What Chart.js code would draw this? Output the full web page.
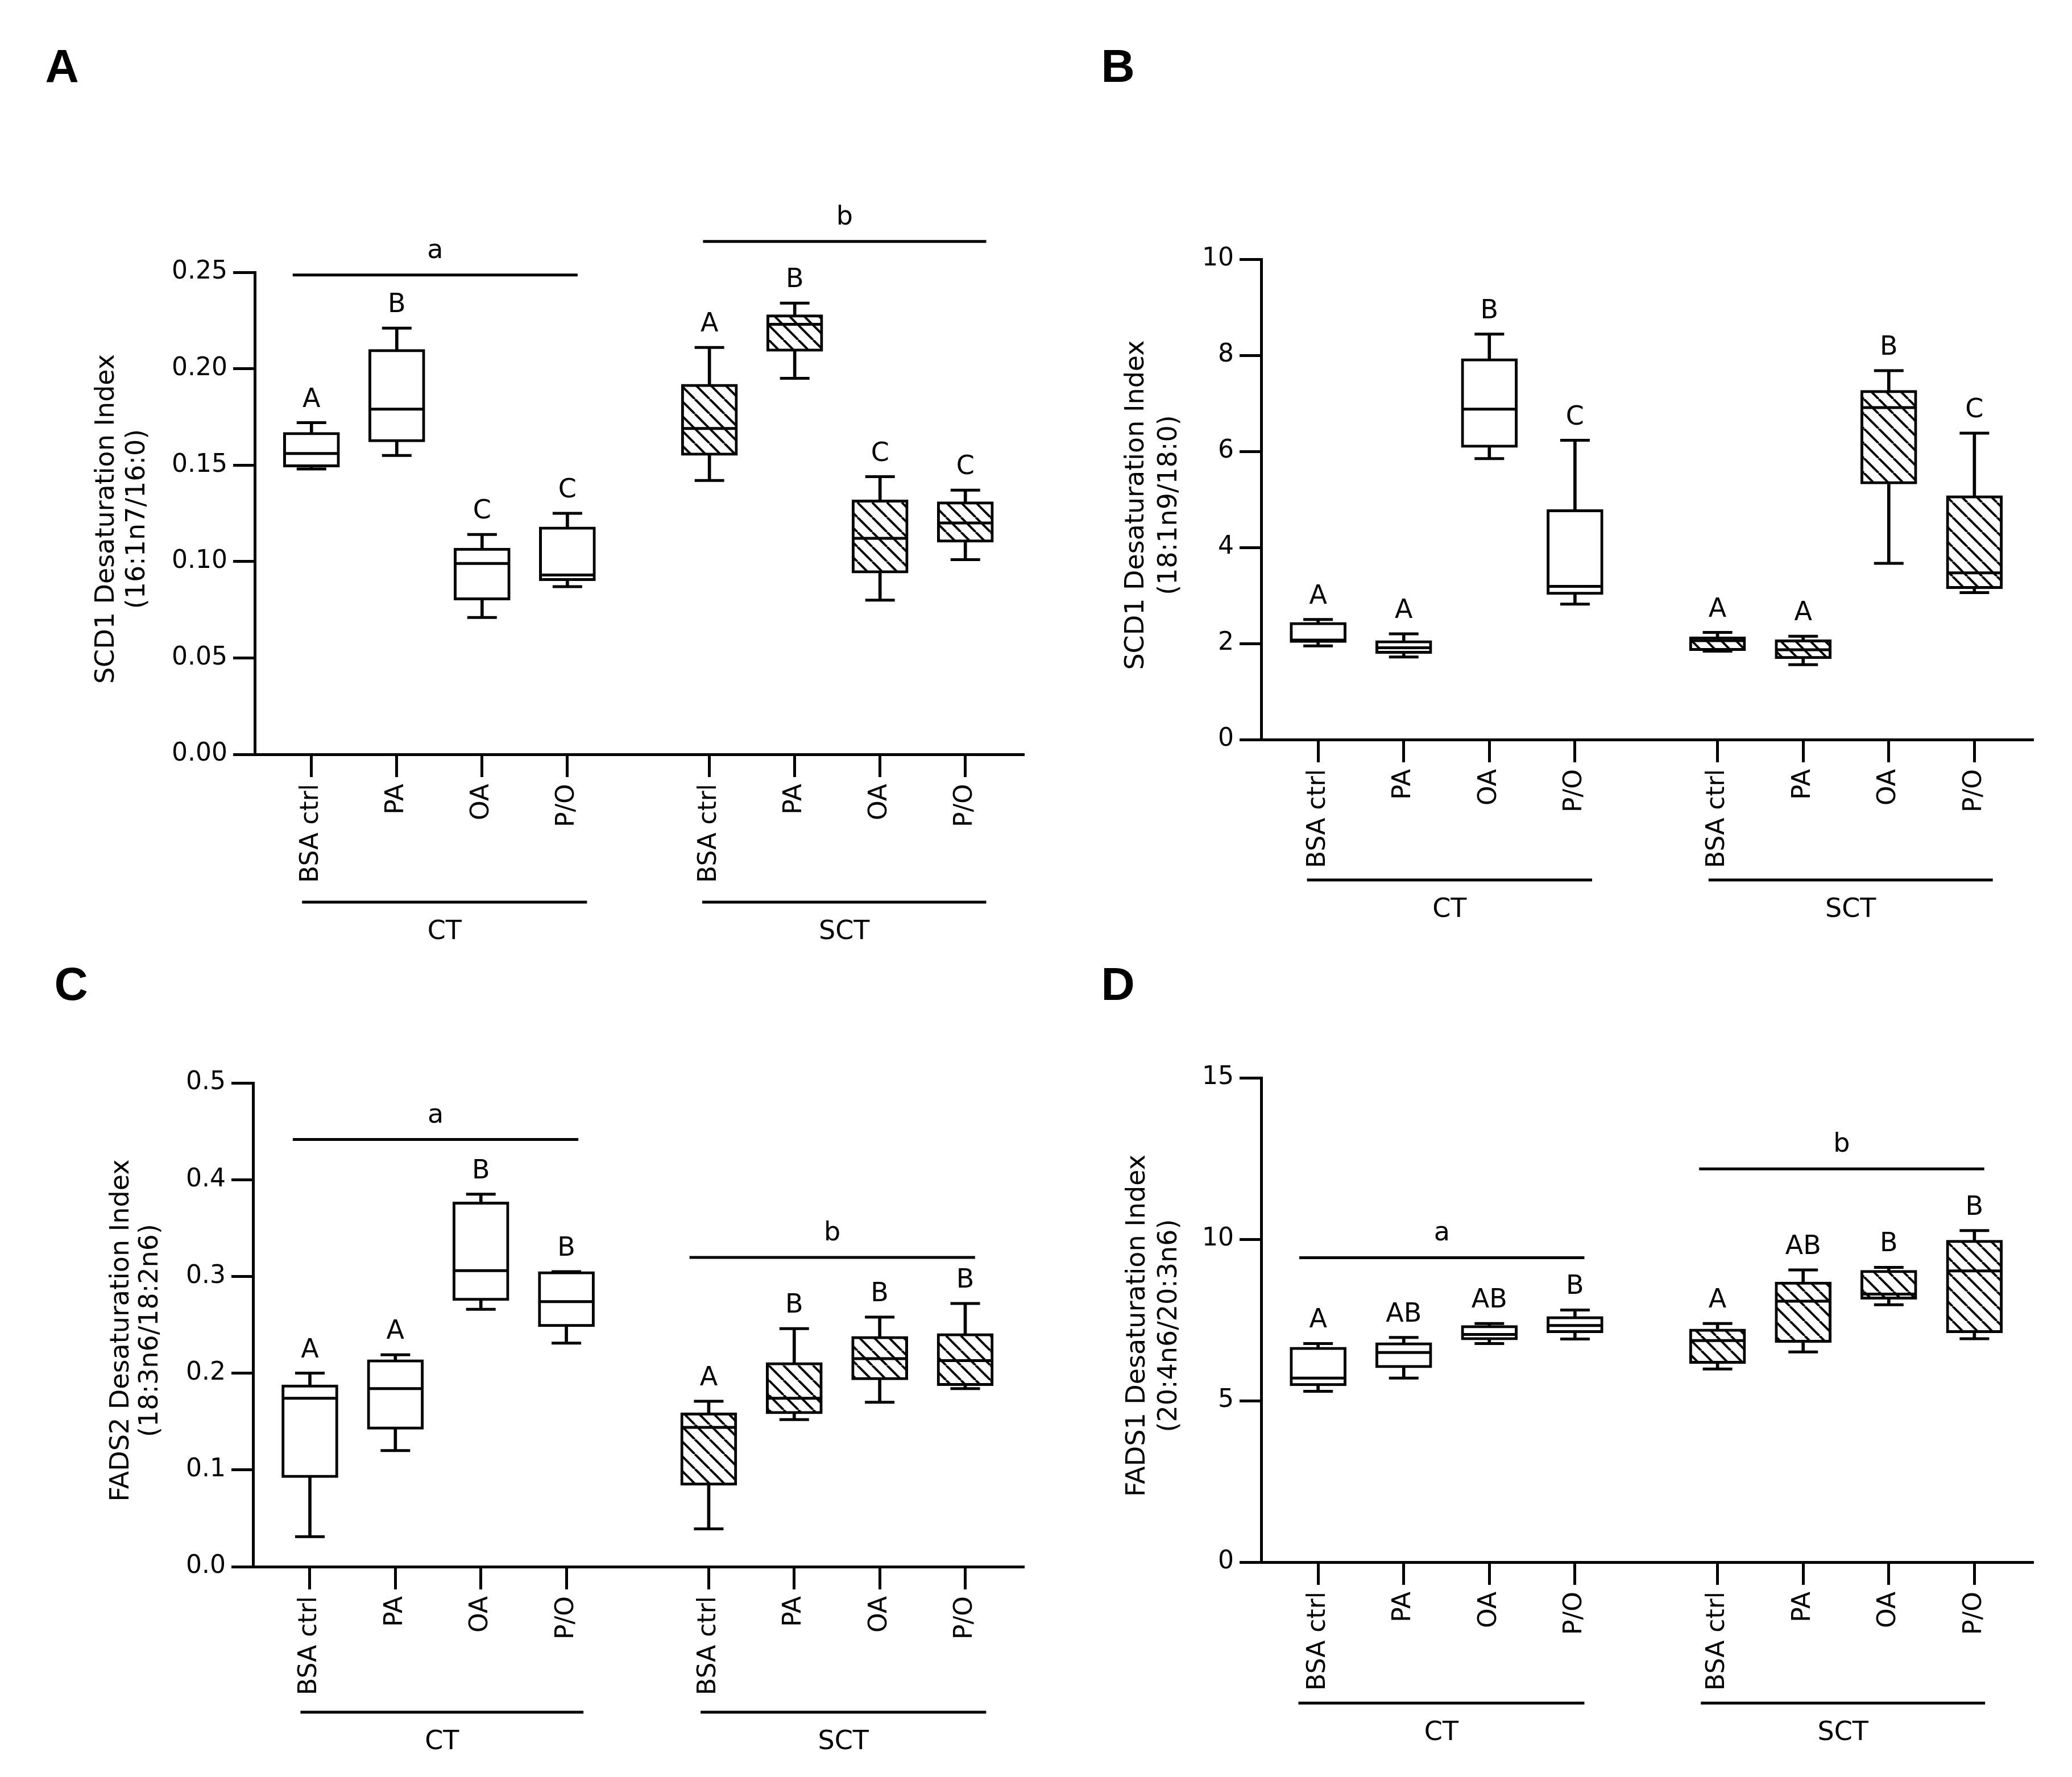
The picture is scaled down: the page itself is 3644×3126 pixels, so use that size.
<!DOCTYPE html>
<html>
<head>
<meta charset="utf-8">
<script src="https://cdn.jsdelivr.net/npm/chart.js@4.4.1/dist/chart.umd.min.js"></script>
<style>
  body { margin: 0; background: #fff; width: 3644px; height: 3126px; position: relative; overflow: hidden; }
  canvas { position: absolute; }
  .panel { position: absolute; font: bold 82px "Liberation Sans", Arial, sans-serif; line-height: 1; transform: translate(-50%, -50%); }
</style>
</head>
<body>
<div class="panel" style="left:109px;top:116px">A</div>
<div class="panel" style="left:1966px;top:116px">B</div>
<div class="panel" style="left:125px;top:1731px">C</div>
<div class="panel" style="left:1966px;top:1731px">D</div>
<canvas id="cA" width="1850" height="1700" style="left:0;top:0"></canvas>
<canvas id="cB" width="1822" height="1700" style="left:1822px;top:0"></canvas>
<canvas id="cC" width="1850" height="1426" style="left:0;top:1700px"></canvas>
<canvas id="cD" width="1822" height="1426" style="left:1822px;top:1700px"></canvas>
<script>
// categories (CT group then SCT group), x positions leave a gap between groups
const treatments = ['BSA ctrl', 'PA', 'OA', 'P/O', 'BSA ctrl', 'PA', 'OA', 'P/O'];
const positions = [1, 2, 3, 4, 5.665, 6.665, 7.665, 8.665];

// A: SCD1 (16:1n7/16:0)
const scd16Min = [0.148, 0.155, 0.071, 0.087, 0.142, 0.195, 0.080, 0.101];
const scd16Q1  = [0.149, 0.162, 0.080, 0.090, 0.155, 0.209, 0.094, 0.110];
const scd16Med = [0.156, 0.179, 0.099, 0.093, 0.169, 0.223, 0.112, 0.120];
const scd16Q3  = [0.167, 0.210, 0.107, 0.118, 0.192, 0.228, 0.132, 0.131];
const scd16Max = [0.172, 0.221, 0.114, 0.125, 0.211, 0.234, 0.144, 0.137];
const scd16Letters = ['A', 'B', 'C', 'C', 'A', 'B', 'C', 'C'];
const scd16Ticks = [0, 0.05, 0.10, 0.15, 0.20, 0.25];

// B: SCD1 (18:1n9/18:0)
const scd18Min = [1.95, 1.72, 5.85, 2.82, 1.84, 1.56, 3.67, 3.06];
const scd18Q1  = [2.02, 1.79, 6.08, 3.02, 1.85, 1.68, 5.32, 3.14];
const scd18Med = [2.07, 1.91, 6.88, 3.19, 2.06, 1.87, 6.91, 3.47];
const scd18Q3  = [2.44, 2.06, 7.93, 4.79, 2.14, 2.08, 7.27, 5.08];
const scd18Max = [2.50, 2.20, 8.44, 6.23, 2.23, 2.15, 7.68, 6.38];
const scd18Letters = ['A', 'A', 'B', 'C', 'A', 'A', 'B', 'C'];
const scd18Ticks = [0, 2, 4, 6, 8, 10];

// C: FADS2 (18:3n6/18:2n6)
const fads2Min = [0.031, 0.120, 0.266, 0.231, 0.039, 0.152, 0.170, 0.184];
const fads2Q1  = [0.092, 0.142, 0.275, 0.248, 0.084, 0.158, 0.193, 0.187];
const fads2Med = [0.174, 0.184, 0.306, 0.274, 0.144, 0.174, 0.215, 0.213];
const fads2Q3  = [0.188, 0.214, 0.377, 0.305, 0.159, 0.211, 0.238, 0.241];
const fads2Max = [0.200, 0.219, 0.385, 0.305, 0.171, 0.246, 0.258, 0.272];
const fads2Letters = ['A', 'A', 'B', 'B', 'A', 'B', 'B', 'B'];
const fads2Ticks = [0, 0.1, 0.2, 0.3, 0.4, 0.5];

// D: FADS1 (20:4n6/20:3n6)
const fads1Min = [5.29, 5.70, 6.77, 6.91, 5.98, 6.51, 7.97, 6.92];
const fads1Q1  = [5.46, 6.02, 6.88, 7.10, 6.15, 6.80, 8.14, 7.10];
const fads1Med = [5.70, 6.49, 7.05, 7.33, 6.86, 8.08, 8.30, 9.02];
const fads1Q3  = [6.66, 6.80, 7.33, 7.61, 7.22, 8.68, 9.04, 9.97];
const fads1Max = [6.77, 6.96, 7.39, 7.81, 7.39, 9.05, 9.13, 10.27];
const fads1Letters = ['A', 'AB', 'AB', 'B', 'A', 'AB', 'B', 'B'];
const fads1Ticks = [0, 5, 10, 15];

// significance bars: [from, to, y, label]
const sigA = [[0.78, 4.12, 0.2486, 'a'], [5.59, 8.91, 0.266, 'b']];
const sigB = [];
const sigC = [[0.80, 4.14, 0.4415, 'a'], [5.44, 8.78, 0.3196, 'b']];
const sigD = [[0.78, 4.11, 9.43, 'a'], [5.45, 8.78, 12.18, 'b']];

// group underline bars: [from, to, label]
const grpA = [[0.89, 4.23, 'CT'], [5.58, 8.91, 'SCT']];
const grpB = [[0.87, 4.20, 'CT'], [5.56, 8.88, 'SCT']];
const grpC = [[0.89, 4.20, 'CT'], [5.57, 8.91, 'SCT']];
const grpD = [[0.77, 4.11, 'CT'], [5.47, 8.79, 'SCT']];

const family = '"DejaVu Sans", sans-serif';

function hatch() {
  const s = 26, c = document.createElement('canvas');
  c.width = s; c.height = s;
  const g = c.getContext('2d');
  g.fillStyle = '#fff'; g.fillRect(0, 0, s, s);
  g.strokeStyle = '#000'; g.lineWidth = 4;
  for (const k of [-1, 0, 1]) {
    g.beginPath(); g.moveTo(k * s, 0); g.lineTo(k * s + s, s); g.stroke();
  }
  return g.createPattern(c, 'repeat');
}
const hatchFill = hatch();

function extras(p) {
  return {
    id: 'extras',
    afterDraw(chart) {
      const ctx = chart.ctx, x = chart.scales.x, y = chart.scales.y, a = chart.chartArea;
      ctx.save();
      ctx.fillStyle = '#000'; ctx.strokeStyle = '#000';
      ctx.textAlign = 'center'; ctx.textBaseline = 'middle';
      ctx.lineWidth = 5;
      ctx.font = '46px ' + family;
      p.letters.forEach((t, i) => {
        ctx.fillText(t, x.getPixelForValue(positions[i]), y.getPixelForValue(p.max[i]) - 40);
      });
      p.sig.forEach(s => {
        const x1 = x.getPixelForValue(s[0]), x2 = x.getPixelForValue(s[1]), yy = y.getPixelForValue(s[2]);
        ctx.beginPath(); ctx.moveTo(x1, yy); ctx.lineTo(x2, yy); ctx.stroke();
        ctx.fillText(s[3], (x1 + x2) / 2, yy - 42);
      });
      p.groups.forEach(g => {
        const x1 = x.getPixelForValue(g[0]), x2 = x.getPixelForValue(g[1]), yy = a.bottom + p.groupDy;
        ctx.beginPath(); ctx.moveTo(x1, yy); ctx.lineTo(x2, yy); ctx.stroke();
        ctx.fillText(g[2], (x1 + x2) / 2, yy + 53);
      });
      const midY = (a.top + a.bottom) / 2 + 10;
      p.title.forEach((t, i) => {
        ctx.save();
        ctx.translate(a.left + p.titleDx[i], midY);
        ctx.rotate(-Math.PI / 2);
        ctx.fillText(t, 0, 0);
        ctx.restore();
      });
      ctx.restore();
    }
  };
}

function makeChart(p) {
  const fills = positions.map((_, i) => i < 4 ? '#fff' : hatchFill);
  const pts = arr => positions.map((x, i) => ({ x: x, y: arr[i] }));
  const span = (lo, hi) => positions.map((x, i) => ({ x: x, y: [lo[i], hi[i]] }));
  const line = { type: 'scatter', pointStyle: 'line', pointBorderColor: '#000', pointBorderWidth: 5, pointHitRadius: 0, showLine: false };
  new Chart(document.getElementById(p.id), {
    type: 'bar',
    data: {
      datasets: [
        Object.assign({}, line, { data: pts(p.med), pointRadius: 46, order: 0 }),
        { data: span(p.q1, p.q3), backgroundColor: fills, borderColor: '#000', borderWidth: 5, borderSkipped: false,
          barThickness: 99, grouped: false, order: 1 },
        { data: span(p.q3, p.max), backgroundColor: '#000', borderWidth: 0, barThickness: 5, grouped: false, order: 2 },
        { data: span(p.min, p.q1), backgroundColor: '#000', borderWidth: 0, barThickness: 5, grouped: false, order: 2 },
        Object.assign({}, line, { data: pts(p.max).concat(pts(p.min)), pointRadius: 26, order: 0 })
      ]
    },
    options: {
      responsive: false,
      animation: false,
      events: [],
      layout: { padding: p.pad },
      plugins: { legend: { display: false }, tooltip: { enabled: false } },
      scales: {
        x: {
          type: 'linear', min: 0.335, max: 9.34, offset: false,
          afterBuildTicks: ax => { ax.ticks = positions.map(v => ({ value: v })); },
          afterFit: ax => { ax.height = 260; },
          ticks: { autoSkip: false, minRotation: 90, maxRotation: 90, padding: 12, color: '#000',
                   font: { size: 44, family: family }, callback: (v, i) => treatments[i] },
          grid: { display: true, drawOnChartArea: false, offset: false, tickLength: 40, lineWidth: 5, color: '#000' },
          border: { display: true, width: 5, color: '#000' }
        },
        y: {
          min: 0, max: p.ticks[p.ticks.length - 1],
          afterBuildTicks: ax => { ax.ticks = p.ticks.map(v => ({ value: v })); },
          afterFit: ax => { ax.width = 160; },
          ticks: { padding: 10, color: '#000', font: { size: 44, family: family },
                   callback: v => v.toFixed(p.dec) },
          grid: { display: true, drawOnChartArea: false, tickLength: 38, lineWidth: 5, color: '#000' },
          border: { display: true, width: 5, color: '#000' }
        }
      }
    },
    plugins: [extras(p)]
  });
}

makeChart({ id: 'cA', min: scd16Min, q1: scd16Q1, med: scd16Med, q3: scd16Q3, max: scd16Max, letters: scd16Letters,
  ticks: scd16Ticks, dec: 2, sig: sigA, groups: grpA, groupDy: 260,
  title: ['SCD1 Desaturation Index', '(16:1n7/16:0)'], titleDx: [-260, -206],
  pad: { left: 288, top: 479, right: 21, bottom: 113 } });
makeChart({ id: 'cB', min: scd18Min, q1: scd18Q1, med: scd18Med, q3: scd18Q3, max: scd18Max, letters: scd18Letters,
  ticks: scd18Ticks, dec: 0, sig: sigB, groups: grpB, groupDy: 247,
  title: ['SCD1 Desaturation Index', '(18:1n9/18:0)'], titleDx: [-219, -161],
  pad: { left: 236, top: 456, right: 70, bottom: 139 } });
makeChart({ id: 'cC', min: fads2Min, q1: fads2Q1, med: fads2Med, q3: fads2Q3, max: fads2Max, letters: fads2Letters,
  ticks: fads2Ticks, dec: 1, sig: sigC, groups: grpC, groupDy: 256,
  title: ['FADS2 Desaturation Index', '(18:3n6/18:2n6)'], titleDx: [-231, -180],
  pad: { left: 285, top: 205, right: 21, bottom: 110 } });
makeChart({ id: 'cD', min: fads1Min, q1: fads1Q1, med: fads1Med, q3: fads1Q3, max: fads1Max, letters: fads1Letters,
  ticks: fads1Ticks, dec: 0, sig: sigD, groups: grpD, groupDy: 248,
  title: ['FADS1 Desaturation Index', '(20:4n6/20:3n6)'], titleDx: [-217, -161],
  pad: { left: 236, top: 196, right: 70, bottom: 118 } });
</script>
</body>
</html>
